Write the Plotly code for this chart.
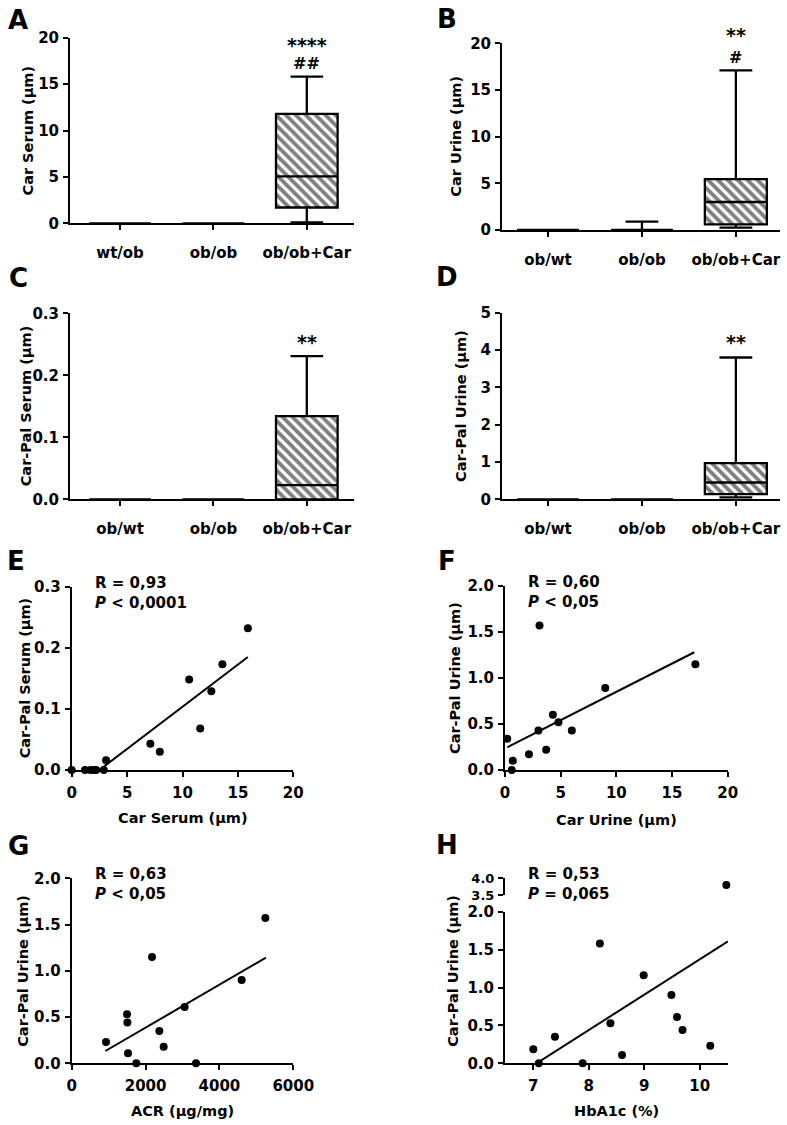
import numpy as np
import plotly.graph_objects as go

W, H = 787, 1125
FONT = "DejaVu Sans"

# ---- box panels (A-D): stats per group ----
groups_A = ["wt/ob", "ob/ob", "ob/ob+Car"]
groups_BCD = ["ob/wt", "ob/ob", "ob/ob+Car"]

# lower whisker, q1, median, q3, upper whisker
car_serum = {"low": [0, 0, 0.1], "q1": [0, 0, 1.7], "med": [0, 0, 5.05],
             "q3": [0, 0, 11.8], "high": [0, 0, 15.8]}
car_urine = {"low": [0, 0, 0.25], "q1": [0, 0, 0.6], "med": [0, 0, 3.0],
             "q3": [0, 0, 5.45], "high": [0, 0.9, 17.1]}
carpal_serum = {"low": [0, 0, 0.0], "q1": [0, 0, 0.0], "med": [0, 0, 0.023],
                "q3": [0, 0, 0.134], "high": [0, 0, 0.231]}
carpal_urine = {"low": [0, 0, 0.05], "q1": [0, 0, 0.14], "med": [0, 0, 0.45],
                "q3": [0, 0, 0.97], "high": [0, 0, 3.8]}

# ---- scatter panels (E-H) ----
e_x = [0, 1.2, 1.7, 2.0, 2.2, 2.9, 3.1, 7.1, 7.95, 10.6, 11.6, 12.6, 13.6, 15.9]
e_y = [0, 0, 0, 0, 0, 0, 0.016, 0.043, 0.030, 0.148, 0.068, 0.129, 0.173, 0.232]
e_fit_x = [2.5, 15.9]
e_fit_y = [0.0, 0.185]

f_x = [0.2, 0.7, 0.6, 2.15, 3.0, 3.1, 3.7, 4.3, 4.8, 6.0, 9.0, 17.1]
f_y = [0.34, 0.10, 0.0, 0.17, 0.43, 1.57, 0.22, 0.60, 0.52, 0.43, 0.89, 1.15]
f_fit_x = [0.2, 17.0]
f_fit_y = [0.246, 1.28]

g_x = [929, 1498, 1507, 1525, 1750, 2175, 2373, 2490, 3058, 3365, 4602, 5243]
g_y = [0.23, 0.53, 0.44, 0.11, 0.0, 1.15, 0.35, 0.18, 0.61, 0.0, 0.90, 1.57]
g_fit_x = [911, 5260]
g_fit_y = [0.133, 1.142]

h_x = [7.0, 7.1, 7.39, 7.89, 8.2, 8.39, 8.6, 8.99, 9.49, 9.59, 9.69, 10.19, 10.48]
h_y = [0.185, 0.0, 0.35, 0.0, 1.58, 0.53, 0.11, 1.16, 0.90, 0.61, 0.44, 0.23, 3.8]
h_fit_x = [7.06, 10.51]
h_fit_y = [0.0, 1.61]

stats = {"E": "R = 0,93<br><i>P</i> &lt; 0,0001",
         "F": "R = 0,60<br><i>P</i> &lt; 0,05",
         "G": "R = 0,63<br><i>P</i> &lt; 0,05",
         "H": "R = 0,53<br><i>P</i> = 0,065"}


# window pixel -> paper fraction
def fx(p):
    return p / W


def fy(p):
    return 1 - p / H


tickfont = dict(family=FONT, size=15, color="black", weight="bold")
base_ax = dict(showline=True, linecolor="black", linewidth=2, ticks="outside",
               ticklen=5, tickwidth=2, tickcolor="black", showgrid=False,
               zeroline=False, tickfont=tickfont, fixedrange=True, automargin=False)
title_font = dict(family=FONT, size=14.5, weight="bold", color="black")

fig = go.Figure()
layout = {}
annotations = []


def paper_text(text, px_, py_, font, **kw):
    d = dict(text=text, x=fx(px_), y=fy(py_), xref="paper", yref="paper",
             xanchor="center", yanchor="middle", showarrow=False, font=font)
    d.update(kw)
    annotations.append(d)


def add_box_panel(n, groups, d, xdom, ydom, xrange, yrange, ytick, yfmt, ytitle, tx):
    xa, ya = f"x{n}", f"y{n}"
    pos = list(range(len(groups)))
    q1 = np.array(d["q1"])
    q3 = np.array(d["q3"])
    fig.add_trace(go.Bar(x=pos, y=q3 - q1, base=q1, width=0.66, xaxis=xa, yaxis=ya,
                         marker=dict(color="white", line=dict(width=0),
                                     pattern=dict(shape="\\", fgcolor="black",
                                                  bgcolor="white", size=7, solidity=0.55)),
                         hoverinfo="skip"))
    for i in pos:
        fig.add_trace(go.Box(x=[pos[i]], q1=[d["q1"][i]], median=[d["med"][i]],
                             q3=[d["q3"][i]], lowerfence=[d["low"][i]],
                             upperfence=[d["high"][i]], width=0.66, whiskerwidth=0.53,
                             line=dict(color="black", width=2.3),
                             fillcolor="rgba(0,0,0,0)", boxpoints=False,
                             xaxis=xa, yaxis=ya, hoverinfo="skip"))
    key = "" if n == 1 else str(n)
    layout["xaxis" + key] = dict(base_ax, domain=[fx(xdom[0]), fx(xdom[1])],
                                 range=xrange, anchor=ya, tickvals=pos, ticktext=groups,
                                 ticklabelstandoff=10)
    layout["yaxis" + key] = dict(base_ax, domain=[fy(ydom[1]), fy(ydom[0])],
                                 range=yrange, anchor=xa, dtick=ytick, tickformat=yfmt,
                                 ticklabelstandoff=1)
    paper_text(ytitle, tx, (ydom[0] + ydom[1]) / 2, title_font, textangle=-90)


add_box_panel(1, groups_A, car_serum, (70, 353.5), (37.7, 223.3), [-0.536, 2.5],
              [0, 20], 5, "d", "Car Serum (µm)", 27)
add_box_panel(2, groups_BCD, car_urine, (502, 780), (43.3, 230), [-0.49, 2.47],
              [0, 20], 5, "d", "Car Urine (µm)", 456)
add_box_panel(3, groups_BCD, carpal_serum, (70, 353.5), (313.3, 499.3), [-0.536, 2.5],
              [0, 0.3], 0.1, ".1f", "Car-Pal Serum (µm)", 26)
add_box_panel(4, groups_BCD, carpal_urine, (502, 780), (312.7, 499.3), [-0.49, 2.47],
              [0, 5], 1, "d", "Car-Pal Urine (µm)", 461)

# significance marks: (axes, text, value, pixel shift, font size)
sig = [("x1", "y1", "****", 19.2, 0, 19), ("x1", "y1", "##", 17.2, 0, 16),
       ("x2", "y2", "**", 20, 8, 19), ("x2", "y2", "#", 18.5, 0, 16),
       ("x3", "y3", "**", 0.254, 0, 19), ("x4", "y4", "**", 4.21, 0, 19)]
for xa, ya, t, yv, sh, s in sig:
    annotations.append(dict(text=t, x=2, y=yv, yshift=sh, xref=xa, yref=ya,
                            showarrow=False, xanchor="center", yanchor="middle",
                            font=dict(family=FONT, size=s, weight="bold", color="black")))


def add_scatter_panel(n, xs, ys, fitx, fity, xdom, ydom, xrange, yrange, xtick, ytick,
                      xtitle, ytitle, stat, tx, xty, xvals=None, top=None):
    xa, ya = f"x{n}", f"y{n}"
    top = ydom[0] if top is None else top
    fig.add_trace(go.Scatter(x=fitx, y=fity, mode="lines", xaxis=xa, yaxis=ya,
                             line=dict(color="black", width=2), hoverinfo="skip"))
    fig.add_trace(go.Scatter(x=xs, y=ys, mode="markers", xaxis=xa, yaxis=ya,
                             marker=dict(color="black", size=8), cliponaxis=False,
                             hoverinfo="skip"))
    layout[f"xaxis{n}"] = dict(base_ax, domain=[fx(xdom[0]), fx(xdom[1])], range=xrange,
                               anchor=ya, dtick=xtick, ticklabelstandoff=3)
    if xvals is not None:
        layout[f"xaxis{n}"].update(tickvals=xvals, dtick=None)
    layout[f"yaxis{n}"] = dict(base_ax, domain=[fy(ydom[1]), fy(ydom[0])], range=yrange,
                               anchor=xa, dtick=ytick, tickformat=".1f",
                               ticklabelstandoff=1)
    paper_text(xtitle, (xdom[0] + xdom[1]) / 2, xty, title_font)
    paper_text(ytitle, tx, (top + ydom[1]) / 2, title_font, textangle=-90)
    paper_text(stat, xdom[0] + 21, top - 15, dict(title_font, size=15),
               xanchor="left", yanchor="top", align="left")


add_scatter_panel(5, e_x, e_y, e_fit_x, e_fit_y, (71.7, 293.3), (586.7, 770), [0, 20],
                  [0, 0.3], 5, 0.1, "Car Serum (µm)", "Car-Pal Serum (µm)", stats["E"],
                  25, 818)
add_scatter_panel(6, f_x, f_y, f_fit_x, f_fit_y, (505, 727.7), (586, 770), [0, 20],
                  [0, 2.0], 5, 0.5, "Car Urine (µm)", "Car-Pal Urine (µm)", stats["F"],
                  455, 820)
add_scatter_panel(7, g_x, g_y, g_fit_x, g_fit_y, (71.7, 293.3), (878.3, 1063.3), [0, 6000],
                  [0, 2.0], 2000, 0.5, "ACR (µg/mg)", "Car-Pal Urine (µm)", stats["G"],
                  23, 1111)

# panel H: broken y axis -> lower part (0-2) and upper part (3.5-4)
h_lo_x = [x for x, y in zip(h_x, h_y) if y <= 2]
h_lo_y = [y for y in h_y if y <= 2]
h_hi_x = [x for x, y in zip(h_x, h_y) if y > 2]
h_hi_y = [y for y in h_y if y > 2]
add_scatter_panel(8, h_lo_x, h_lo_y, h_fit_x, h_fit_y, (505, 728), (911.7, 1063.3),
                  [6.49, 10.51], [0, 2.0], 1, 0.5, "HbA1c (%)", "Car-Pal Urine (µm)",
                  stats["H"], 453, 1111, xvals=[7, 8, 9, 10], top=878.3)
fig.add_trace(go.Scatter(x=h_hi_x, y=h_hi_y, mode="markers", xaxis="x9", yaxis="y9",
                         marker=dict(color="black", size=8), cliponaxis=False,
                         hoverinfo="skip"))
layout["xaxis9"] = dict(domain=[fx(505), fx(728)], matches="x8", anchor="y9",
                        visible=False, automargin=False)
layout["yaxis9"] = dict(base_ax, domain=[fy(895), fy(878.3)], range=[3.5, 4.0],
                        anchor="x9", tickvals=[3.5, 4.0], tickformat=".1f",
                        ticklabelstandoff=1, tickfont=dict(tickfont, size=13))

# panel letters
letter_font = dict(family=FONT, size=26, weight="bold", color="black")
for letter, px_, py_ in [("A", 18, 20), ("B", 447, 19), ("C", 18, 278), ("D", 447, 277),
                         ("E", 16, 561), ("F", 447, 561), ("G", 18, 846), ("H", 447, 845)]:
    paper_text(letter, px_, py_, letter_font)

fig.update_layout(width=W, height=H, margin=dict(l=0, r=0, t=0, b=0, autoexpand=False),
                  plot_bgcolor="white", paper_bgcolor="white", showlegend=False,
                  font=dict(family=FONT, color="black"), annotations=annotations,
                  **layout)
# drop the browser's default 8px body margin so the figure sits at the window corner
fig.write_html("out.html", config={"displayModeBar": False},
               post_script="document.body.style.margin='0px';")
